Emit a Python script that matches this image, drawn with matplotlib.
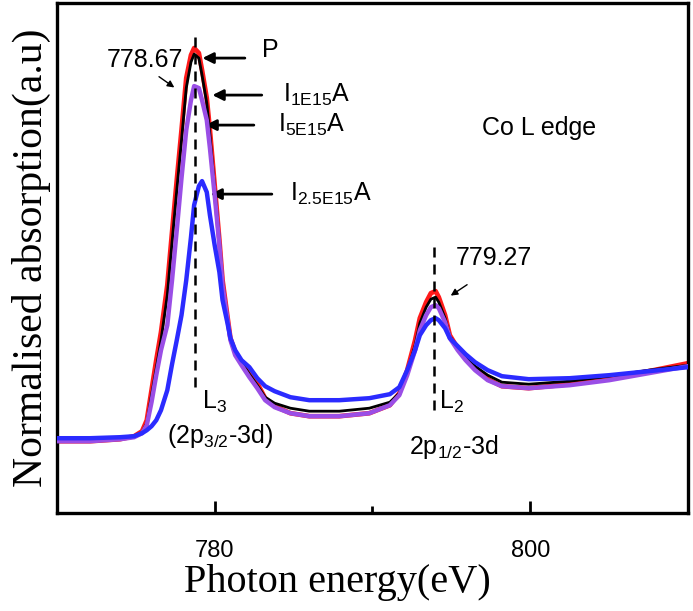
import matplotlib
matplotlib.use("Agg")
import matplotlib.pyplot as plt
from matplotlib.ticker import FixedLocator

plt.rcParams["font.family"] = ["Liberation Sans", "DejaVu Sans"]
plt.rcParams["mathtext.default"] = "regular"

# photon energy grid (eV)
energy = [770.0, 772.1, 774.0, 774.9, 775.4, 775.7, 776.0, 776.3, 776.6, 777.0,
          777.3, 777.6, 777.9, 778.2, 778.5, 778.7, 779.0, 779.2, 779.5, 779.7,
          780.0, 780.3, 780.5, 780.8, 781.0, 781.3, 781.7, 782.2, 782.7, 783.2,
          783.8, 784.8, 786.0, 787.9, 789.8, 791.1, 791.7, 792.2, 792.7, 793.0,
          793.4, 793.7, 794.0, 794.2, 794.6, 794.9, 795.4, 795.9, 796.5, 797.3,
          798.2, 799.9, 802.5, 805.0, 807.5, 810.0]

# normalised absorption (a.u.)
pristine = [-0.01, -0.01, 0.01, 0.04, 0.09, 0.20, 0.50, 0.80, 1.08, 1.55,
            2.08, 2.60, 3.10, 3.62, 3.85, 3.92, 3.87, 3.70, 3.42, 3.10,
            2.55, 2.00, 1.60, 1.25, 1.02, 0.88, 0.78, 0.68, 0.57, 0.42,
            0.34, 0.27, 0.24, 0.24, 0.27, 0.35, 0.47, 0.70, 1.00, 1.22,
            1.38, 1.47, 1.49, 1.43, 1.25, 1.05, 0.92, 0.82, 0.72, 0.61,
            0.54, 0.52, 0.56, 0.62, 0.69, 0.77]
i_1e15 = [0.00, 0.00, 0.01, 0.04, 0.08, 0.17, 0.45, 0.72, 1.00, 1.45,
          1.98, 2.50, 3.00, 3.52, 3.78, 3.86, 3.82, 3.65, 3.37, 3.05,
          2.52, 2.00, 1.58, 1.24, 1.02, 0.88, 0.78, 0.66, 0.55, 0.43,
          0.37, 0.32, 0.29, 0.29, 0.32, 0.38, 0.47, 0.68, 0.95, 1.17,
          1.33, 1.41, 1.43, 1.38, 1.22, 1.04, 0.92, 0.83, 0.74, 0.65,
          0.58, 0.56, 0.59, 0.64, 0.70, 0.75]
i_5e15 = [-0.01, -0.01, 0.01, 0.03, 0.07, 0.15, 0.38, 0.65, 0.90, 1.15,
          1.60, 2.10, 2.62, 3.10, 3.40, 3.54, 3.52, 3.40, 3.20, 2.92,
          2.45, 1.95, 1.55, 1.22, 1.00, 0.85, 0.75, 0.63, 0.52, 0.40,
          0.33, 0.27, 0.24, 0.24, 0.27, 0.35, 0.45, 0.65, 0.90, 1.10,
          1.25, 1.33, 1.35, 1.32, 1.18, 1.02, 0.90, 0.80, 0.70, 0.60,
          0.54, 0.52, 0.55, 0.60, 0.67, 0.74]
i_25e15 = [0.02, 0.02, 0.03, 0.04, 0.07, 0.10, 0.14, 0.20, 0.30, 0.50,
           0.76, 1.00, 1.25, 1.60, 2.03, 2.35, 2.54, 2.59, 2.48, 2.25,
           1.95, 1.68, 1.40, 1.18, 1.02, 0.90, 0.80, 0.73, 0.62, 0.54,
           0.49, 0.43, 0.40, 0.40, 0.42, 0.46, 0.53, 0.70, 0.90, 1.05,
           1.15, 1.20, 1.22, 1.20, 1.12, 1.02, 0.94, 0.86, 0.78, 0.70,
           0.64, 0.61, 0.62, 0.65, 0.69, 0.73]

l3_pos, l3_top, l3_bottom = 778.73, 4.05, 0.53
l2_pos, l2_top, l2_bottom = 793.92, 2.0, 0.30

fig = plt.figure(figsize=(6.93, 6.11), dpi=100)
ax = fig.add_axes([0.082, 0.160, 0.911, 0.835])

ax.plot(energy, pristine, color="#ff1a1a", lw=3.4, zorder=2)
ax.plot(energy, i_1e15, color="black", lw=2.0, zorder=3)
ax.plot(energy, i_5e15, color="#9a4ee6", lw=3.2, zorder=4)
ax.plot(energy, i_25e15, color="#2b2bff", lw=3.2, zorder=5)

ax.plot([l3_pos, l3_pos], [l3_bottom, l3_top], color="black", lw=1.8,
        dashes=(4, 2.8), zorder=6)
ax.plot([l2_pos, l2_pos], [l2_bottom, l2_top], color="black", lw=1.8,
        dashes=(4, 2.8), zorder=6)

fs = 18
big_arrow = dict(arrowstyle="-|>", color="black", lw=2.0, mutation_scale=16)
small_arrow = dict(arrowstyle="-|>", color="black", lw=1.0, mutation_scale=10)

ax.text(775.57, 3.80, "778.67", fontsize=fs, ha="center", va="center")
ax.annotate("", xy=(777.59, 3.51), xytext=(776.33, 3.65), arrowprops=small_arrow)

ax.text(782.97, 3.90, "P", fontsize=fs, ha="left", va="center")
ax.annotate("", xy=(779.05, 3.82), xytext=(782.09, 3.82), arrowprops=big_arrow)

ax.text(784.30, 3.45, "I$_{1E15}$A", fontsize=fs, ha="left", va="center")
ax.annotate("", xy=(779.68, 3.45), xytext=(783.16, 3.45), arrowprops=big_arrow)

ax.text(783.99, 3.15, "I$_{5E15}$A", fontsize=fs, ha="left", va="center")
ax.annotate("", xy=(779.24, 3.15), xytext=(782.66, 3.15), arrowprops=big_arrow)

ax.text(784.75, 2.46, "I$_{2.5E15}$A", fontsize=fs, ha="left", va="center")
ax.annotate("", xy=(779.56, 2.46), xytext=(783.80, 2.46), arrowprops=big_arrow)

ax.text(796.96, 3.12, "Co L edge", fontsize=fs, ha="left", va="center")

ax.text(797.72, 1.82, "779.27", fontsize=fs, ha="center", va="center")
ax.annotate("", xy=(794.81, 1.43), xytext=(796.14, 1.57), arrowprops=small_arrow)

ax.text(779.18, 0.38, "L$_3$", fontsize=fs, ha="left", va="center")
ax.text(780.32, 0.04, "(2p$_{3/2}$-3d)", fontsize=fs, ha="center", va="center")
ax.text(794.24, 0.38, "L$_2$", fontsize=fs, ha="left", va="center")
ax.text(795.13, -0.07, "2p$_{1/2}$-3d", fontsize=fs, ha="center", va="center")

ax.set_xlim(770, 810)
ax.set_ylim(-0.73, 4.37)
ax.xaxis.set_major_locator(FixedLocator([780, 800]))
ax.xaxis.set_minor_locator(FixedLocator([790]))
ax.set_yticks([])
ax.tick_params(axis="x", which="major", direction="in", length=9, width=2,
               labelsize=17, pad=19)
ax.tick_params(axis="x", which="minor", direction="in", length=5, width=2)
for s in ax.spines.values():
    s.set_linewidth(2.4)

ax.set_xlabel("Photon energy(eV)", family="Liberation Serif", fontsize=29)
ax.xaxis.set_label_coords(0.445, -0.10)
ax.set_ylabel("Normalised absorption(a.u)", family="Liberation Serif", fontsize=30, labelpad=4)

fig.savefig("out.png", dpi=100)
